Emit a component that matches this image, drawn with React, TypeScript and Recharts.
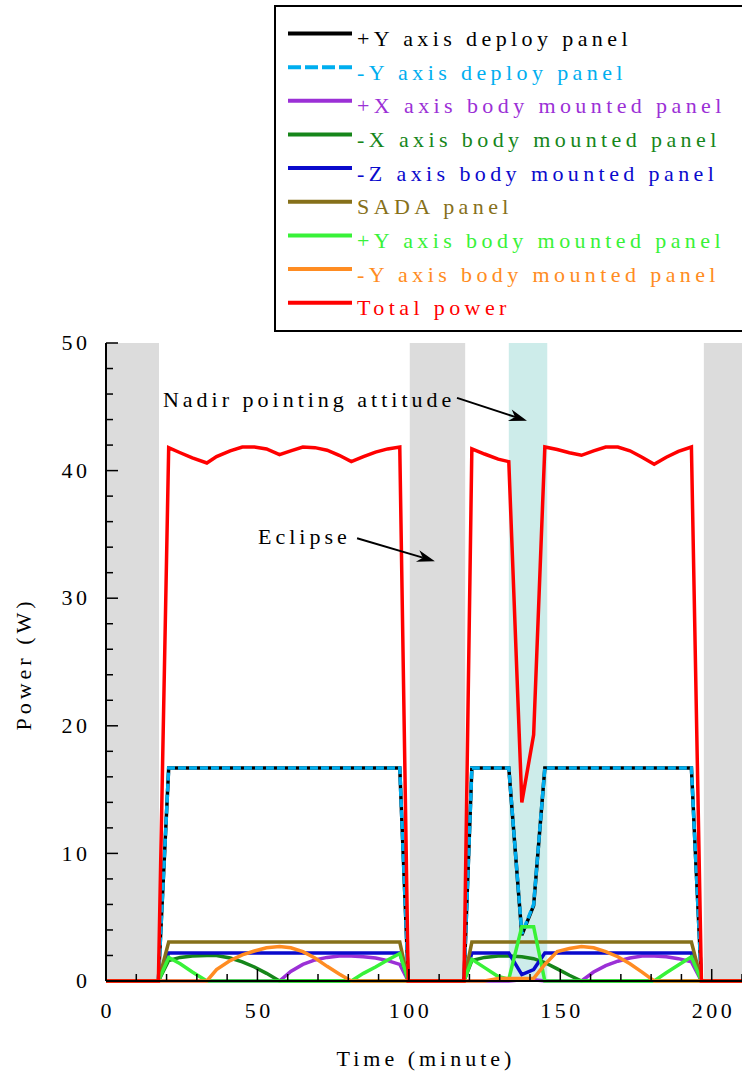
import React from 'react';
import { LineChart, Line, XAxis, YAxis, Legend, Label, ReferenceArea, ReferenceLine, ReferenceDot } from 'recharts';

const FONT = '"Liberation Serif", "Times New Roman", serif';

// time (minute)
const time = [0, 17.3, 20.7, 24.5, 28.5, 33.3, 36.5, 41, 45, 49, 53, 57.3, 61, 65, 69, 73, 77, 81, 85, 89, 93, 97, 99.8, 118.2, 120.8, 125, 129.5, 133, 137.3, 141.2, 144.9, 149, 153, 157, 161, 165, 169, 173, 177, 181, 185, 189, 193.3, 196.6, 210];

// power (W) per panel
const plusYDeploy = [0, 0, 16.7, 16.7, 16.7, 16.7, 16.7, 16.7, 16.7, 16.7, 16.7, 16.7, 16.7, 16.7, 16.7, 16.7, 16.7, 16.7, 16.7, 16.7, 16.7, 16.7, 0, 0, 16.7, 16.7, 16.7, 16.7, 3.6, 5.9, 16.7, 16.7, 16.7, 16.7, 16.7, 16.7, 16.7, 16.7, 16.7, 16.7, 16.7, 16.7, 16.7, 0, 0];
const minusYDeploy = [0, 0, 16.7, 16.7, 16.7, 16.7, 16.7, 16.7, 16.7, 16.7, 16.7, 16.7, 16.7, 16.7, 16.7, 16.7, 16.7, 16.7, 16.7, 16.7, 16.7, 16.7, 0, 0, 16.7, 16.7, 16.7, 16.7, 3.7, 6.0, 16.7, 16.7, 16.7, 16.7, 16.7, 16.7, 16.7, 16.7, 16.7, 16.7, 16.7, 16.7, 16.7, 0, 0];
const plusXBody = [0, 0, 0, 0, 0, 0, 0, 0, 0, 0, 0, 0, 0.75, 1.3, 1.65, 1.85, 1.95, 1.95, 1.9, 1.8, 1.6, 1.3, 0, 0, 0, 0, 0, 0, 0.1, 0.1, 0, 0, 0, 0, 0.7, 1.2, 1.55, 1.8, 1.95, 1.95, 1.9, 1.75, 1.5, 0, 0];
const minusXBody = [0, 0, 1.6, 1.85, 1.95, 2.0, 2.0, 1.8, 1.5, 1.1, 0.6, 0, 0, 0, 0, 0, 0, 0, 0, 0, 0, 0, 0, 0, 1.6, 1.85, 1.95, 1.95, 1.9, 1.75, 1.45, 0.95, 0.45, 0, 0, 0, 0, 0, 0, 0, 0, 0, 0, 0, 0];
const minusZBody = [0, 0, 2.2, 2.2, 2.2, 2.2, 2.2, 2.2, 2.2, 2.2, 2.2, 2.2, 2.2, 2.2, 2.2, 2.2, 2.2, 2.2, 2.2, 2.2, 2.2, 2.2, 0, 0, 2.2, 2.2, 2.2, 2.2, 0.5, 0.9, 2.2, 2.2, 2.2, 2.2, 2.2, 2.2, 2.2, 2.2, 2.2, 2.2, 2.2, 2.2, 2.2, 0, 0];
const sada = [0, 0, 3.05, 3.05, 3.05, 3.05, 3.05, 3.05, 3.05, 3.05, 3.05, 3.05, 3.05, 3.05, 3.05, 3.05, 3.05, 3.05, 3.05, 3.05, 3.05, 3.05, 0, 0, 3.05, 3.05, 3.05, 3.05, 3.05, 3.05, 3.05, 3.05, 3.05, 3.05, 3.05, 3.05, 3.05, 3.05, 3.05, 3.05, 3.05, 3.05, 3.05, 0, 0];
const plusYBody = [0, 0, 1.85, 1.35, 0.7, 0, 0, 0, 0, 0, 0, 0, 0, 0, 0, 0, 0, 0, 0.6, 1.1, 1.65, 2.15, 0, 0, 1.7, 1.05, 0.35, 0.15, 4.25, 4.25, 0, 0, 0, 0, 0, 0, 0, 0, 0, 0, 0.65, 1.25, 1.9, 0, 0];
const minusYBody = [0, 0, 0, 0, 0, 0, 0.9, 1.6, 2.05, 2.35, 2.6, 2.7, 2.6, 2.3, 1.8, 1.15, 0.55, 0, 0, 0, 0, 0, 0, 0, 0, 0, 0.2, 0.2, 0.2, 0.2, 1.3, 2.3, 2.55, 2.7, 2.6, 2.3, 1.9, 1.35, 0.7, 0, 0, 0, 0, 0, 0];
const totalPower = [0, 0, 41.8, 41.4, 41.0, 40.6, 41.1, 41.55, 41.85, 41.85, 41.7, 41.25, 41.55, 41.85, 41.8, 41.6, 41.2, 40.7, 41.1, 41.45, 41.7, 41.85, 0, 0, 41.7, 41.3, 40.9, 40.7, 14.0, 19.3, 41.85, 41.65, 41.4, 41.2, 41.55, 41.85, 41.85, 41.55, 41.05, 40.5, 41.05, 41.5, 41.85, 0, 0];

const xTicks = [0, 10, 20, 30, 40, 50, 60, 70, 80, 90, 100, 110, 120, 130, 140, 150, 160, 170, 180, 190, 200, 210];
const yTicks = [0, 2, 4, 6, 8, 10, 12, 14, 16, 18, 20, 22, 24, 26, 28, 30, 32, 34, 36, 38, 40, 42, 44, 46, 48, 50];

// shaded windows (minute)
const eclipses = [[0, 17.5], [100.3, 118.6], [197.4, 210]];
const nadirWindow = [133, 145.7];

// annotation anchors in data units
const nadirText = { x: 18.8, y: 45 };
const nadirArrow = [{ x: 115.9, y: 45.7 }, { x: 139, y: 43.9 }];
const eclipseText = { x: 50.2, y: 34.25 };
const eclipseArrow = [{ x: 82.9, y: 34.7 }, { x: 108.6, y: 32.9 }];

const series = [
  { key: 'plusYDeploy', name: '+Y axis deploy panel', color: '#000000', values: plusYDeploy },
  { key: 'minusYDeploy', name: '-Y axis deploy panel', color: '#00aeef', values: minusYDeploy, dash: true },
  { key: 'plusXBody', name: '+X axis body mounted panel', color: '#9b30d6', values: plusXBody },
  { key: 'minusXBody', name: '-X axis body mounted panel', color: '#16861a', values: minusXBody },
  { key: 'minusZBody', name: '-Z axis body mounted panel', color: '#0a0acc', values: minusZBody },
  { key: 'sada', name: 'SADA panel', color: '#86701a', values: sada },
  { key: 'plusYBody', name: '+Y axis body mounted panel', color: '#38f238', values: plusYBody },
  { key: 'minusYBody', name: '-Y axis body mounted panel', color: '#ff8c22', values: minusYBody },
  { key: 'totalPower', name: 'Total power', color: '#ff0000', values: totalPower },
];

const data = time.map((t, i) => {
  const row: Record<string, number> = { t };
  series.forEach((s) => { row[s.key] = s.values[i]; });
  return row;
});

const textStyle = { fontFamily: FONT, fontSize: 22, letterSpacing: 3.5, fill: '#000' };

function BottomTick({ x, y, payload }: any) {
  const major = payload.value % 50 === 0;
  return (
    <g>
      <line x1={x} y1={y} x2={x} y2={y - (major ? 12 : 7)} stroke="#000" strokeWidth={1.5} />
      {major && <text x={x + 1.75} y={y + 37} textAnchor="middle" style={textStyle}>{payload.value}</text>}
    </g>
  );
}

function TopTick({ x, y, payload }: any) {
  const major = payload.value % 50 === 0;
  return <line x1={x} y1={y} x2={x} y2={y + (major ? 12 : 7)} stroke="#000" strokeWidth={1.5} />;
}

function LeftTick({ x, y, payload }: any) {
  const major = payload.value % 10 === 0;
  return (
    <g>
      <line x1={x} y1={y} x2={x + (major ? 12 : 7)} y2={y} stroke="#000" strokeWidth={1.5} />
      {major && <text x={x - 15.5} y={y} dy="0.33em" textAnchor="end" style={textStyle}>{payload.value}</text>}
    </g>
  );
}

function RightTick({ x, y, payload }: any) {
  const major = payload.value % 10 === 0;
  return <line x1={x} y1={y} x2={x - (major ? 12 : 7)} y2={y} stroke="#000" strokeWidth={1.5} />;
}

function Arrow({ x1, y1, x2, y2 }: any) {
  const a = Math.atan2(y2 - y1, x2 - x1);
  const c = Math.cos(a);
  const s = Math.sin(a);
  const len = 18;
  const half = 6;
  const bx = x2 - len * c;
  const by = y2 - len * s;
  const nx = x2 - len * 0.7 * c;
  const ny = y2 - len * 0.7 * s;
  const pts = `${x2},${y2} ${bx - half * s},${by + half * c} ${nx},${ny} ${bx + half * s},${by - half * c}`;
  return (
    <g>
      <line x1={x1} y1={y1} x2={nx} y2={ny} stroke="#000" strokeWidth={2} />
      <polygon points={pts} fill="#000" />
    </g>
  );
}

function LegendBox() {
  return (
    <div style={{ width: 490, height: 327, border: '2px solid #000', boxSizing: 'border-box', background: '#fff' }}>
      <svg width={486} height={323} style={{ display: 'block' }}>
        {series.map((s, i) => {
          const y = 26.5 + i * 33.65;
          return (
            <g key={s.key}>
              <line x1={12} x2={76} y1={y} y2={y} stroke={s.color} strokeWidth={4} strokeDasharray={s.dash ? '13 4' : undefined} />
              <text x={81} y={y + 12.5} style={{ fontFamily: FONT, fontSize: 22, letterSpacing: 4.4, fill: s.color }}>{s.name}</text>
            </g>
          );
        })}
      </svg>
    </div>
  );
}

export default function App() {
  return (
    <div style={{ position: 'absolute', left: 0, top: 0, width: 742, height: 1074, overflow: 'hidden', background: '#fff' }}>
      <LineChart width={742} height={1074} data={data} margin={{ top: 343, right: 0, bottom: 0, left: 0 }}>
        {eclipses.map(([a, b]) => (
          <ReferenceArea key={a} x1={a} x2={b} fill="#dcdcdc" fillOpacity={1} stroke="none" />
        ))}
        <ReferenceArea x1={nadirWindow[0]} x2={nadirWindow[1]} fill="#cdecea" fillOpacity={1} stroke="none" />

        <XAxis dataKey="t" type="number" domain={[0, 210]} ticks={xTicks} interval={0} height={93}
          tickSize={0} tickMargin={0} tickLine={false} tick={(p: any) => <BottomTick {...p} />}
          axisLine={{ stroke: '#000', strokeWidth: 2 }}>
          <Label content={({ viewBox }: any) => (
            <text x={viewBox.x + viewBox.width / 2 + 2} y={viewBox.y + 85} textAnchor="middle" style={{ ...textStyle, letterSpacing: 4 }}>Time (minute)</text>
          )} />
        </XAxis>
        <XAxis xAxisId="top" orientation="top" dataKey="t" type="number" domain={[0, 210]} ticks={xTicks} interval={0} height={0}
          tickSize={0} tickMargin={0} tickLine={false} tick={(p: any) => <TopTick {...p} />}
          axisLine={{ stroke: '#000', strokeWidth: 2 }} />
        <YAxis type="number" domain={[0, 50]} ticks={yTicks} interval={0} width={106}
          tickSize={0} tickMargin={0} tickLine={false} tick={(p: any) => <LeftTick {...p} />}
          axisLine={{ stroke: '#000', strokeWidth: 2 }}>
          <Label content={() => (
            <text x={31} y={664} transform="rotate(-90, 31, 664)" textAnchor="middle" style={{ ...textStyle, letterSpacing: 4 }}>Power (W)</text>
          )} />
        </YAxis>
        <YAxis yAxisId="right" orientation="right" type="number" domain={[0, 50]} ticks={yTicks} interval={0} width={0}
          tickSize={0} tickMargin={0} tickLine={false} tick={(p: any) => <RightTick {...p} />}
          axisLine={{ stroke: '#000', strokeWidth: 2 }} />

        {series.map((s) => (
          <Line key={s.key} dataKey={s.key} name={s.name} type="linear" stroke={s.color} strokeWidth={3.5}
            strokeDasharray={s.dash ? '8 3' : undefined} dot={false} activeDot={false} isAnimationActive={false} />
        ))}

        <ReferenceLine segment={nadirArrow} stroke="#000" shape={(p: any) => <Arrow {...p} />} />
        <ReferenceLine segment={eclipseArrow} stroke="#000" shape={(p: any) => <Arrow {...p} />} />
        <ReferenceDot x={nadirText.x} y={nadirText.y} r={0} shape={(p: any) => (
          <text x={p.cx} y={p.cy} style={{ ...textStyle, letterSpacing: 4 }}>Nadir pointing attitude</text>
        )} />
        <ReferenceDot x={eclipseText.x} y={eclipseText.y} r={0} shape={(p: any) => (
          <text x={p.cx} y={p.cy} style={{ ...textStyle, letterSpacing: 4 }}>Eclipse</text>
        )} />

        <Legend layout="vertical" align="center" verticalAlign="middle"
          wrapperStyle={{ left: 274, top: 5, width: 490, height: 327 }}
          content={() => <LegendBox />} />
      </LineChart>
    </div>
  );
}
